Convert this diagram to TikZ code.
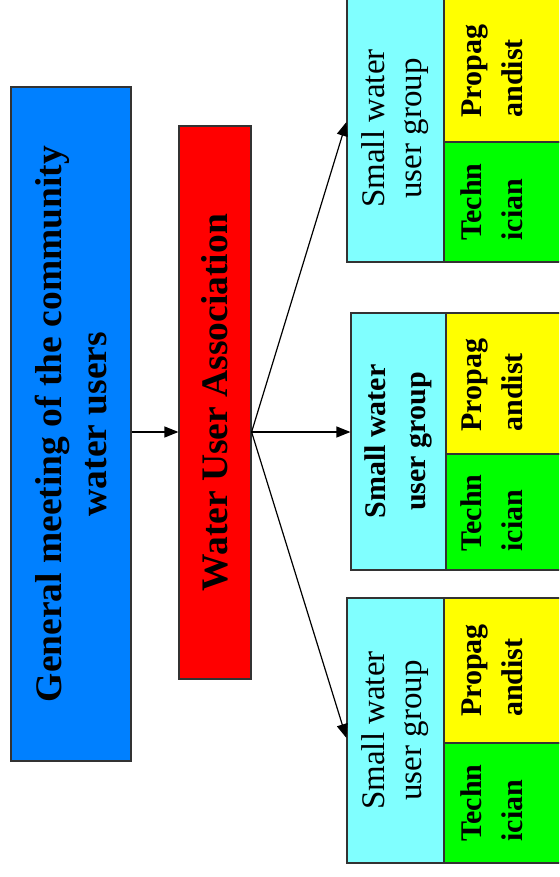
\documentclass[tikz,border=0pt]{standalone}
\usepackage{fontspec}
\setmainfont{Liberation Serif}
\usetikzlibrary{arrows.meta}
\definecolor{meetblue}{RGB}{0,128,255}
\definecolor{assocred}{RGB}{255,0,0}
\definecolor{groupcyan}{RGB}{128,255,255}
\definecolor{propyellow}{RGB}{255,255,0}
\definecolor{techgreen}{RGB}{0,255,0}
\begin{document}
\begin{tikzpicture}[x=1pt,y=-1pt,
  box/.style={draw=black!80, line width=1.2pt, rotate=90, inner sep=0pt, align=center},
  cell/.style={draw=black!80, line width=1.2pt},
  bigtext/.style={font=\bfseries\fontsize{37.5}{45}\selectfont},
  grouptext/.style={font=\fontsize{33}{37}\selectfont},
  groupbold/.style={font=\bfseries\fontsize{30}{40}\selectfont},
  roletext/.style={rotate=90, inner sep=0pt, align=left, font=\bfseries\fontsize{30}{41}\selectfont},
  link/.style={line width=1.2pt, -{Triangle[length=14pt,width=11pt]}}]
\clip (0,0) rectangle (559,877);

% general meeting and association
\node[box, bigtext, fill=meetblue, minimum width=674pt, minimum height=120pt]
  (meeting) at (71,424) {General meeting of the community\\water users};
\node[box, bigtext, fill=assocred, minimum width=553pt, minimum height=72pt]
  (assoc) at (215,402.5) {Water User Association};

% upper group
\node[box, grouptext, fill=groupcyan, minimum width=267pt, minimum height=97pt]
  (grpA) at (395.5,128.5) {Small water\\user group};
\draw[cell, fill=propyellow] (444,-5) rectangle (570,142);
\draw[cell, fill=techgreen] (444,142) rectangle (570,262);
\node[roletext] (propA) at (492,71) {Propag\\andist};
\node[roletext] (techA) at (492,202) {Techn\\ician};

% middle group
\node[box, groupbold, fill=groupcyan, minimum width=257pt, minimum height=95pt]
  (grpB) at (398.5,441.5) {Small water\\user group};
\draw[cell, fill=propyellow] (446,313) rectangle (570,454);
\draw[cell, fill=techgreen] (446,454) rectangle (570,570);
\node[roletext] (propB) at (492,385) {Propag\\andist};
\node[roletext] (techB) at (492,513) {Techn\\ician};

% lower group
\node[box, grouptext, fill=groupcyan, minimum width=265pt, minimum height=97pt]
  (grpC) at (395.5,730.5) {Small water\\user group};
\draw[cell, fill=propyellow] (444,598) rectangle (570,743);
\draw[cell, fill=techgreen] (444,743) rectangle (570,863);
\node[roletext] (propC) at (492,670.5) {Propag\\andist};
\node[roletext] (techC) at (492,803) {Techn\\ician};

% connectors
\coordinate (fork) at (assoc.south |- 0,432);
\draw[link] (meeting.south |- fork) -- (assoc.north |- fork);
\draw[link] (fork) -- (grpA.north |- 0,122);
\draw[link] (fork) -- (grpB.north |- fork);
\draw[link] (fork) -- (grpC.north |- 0,738);
\end{tikzpicture}
\end{document}
